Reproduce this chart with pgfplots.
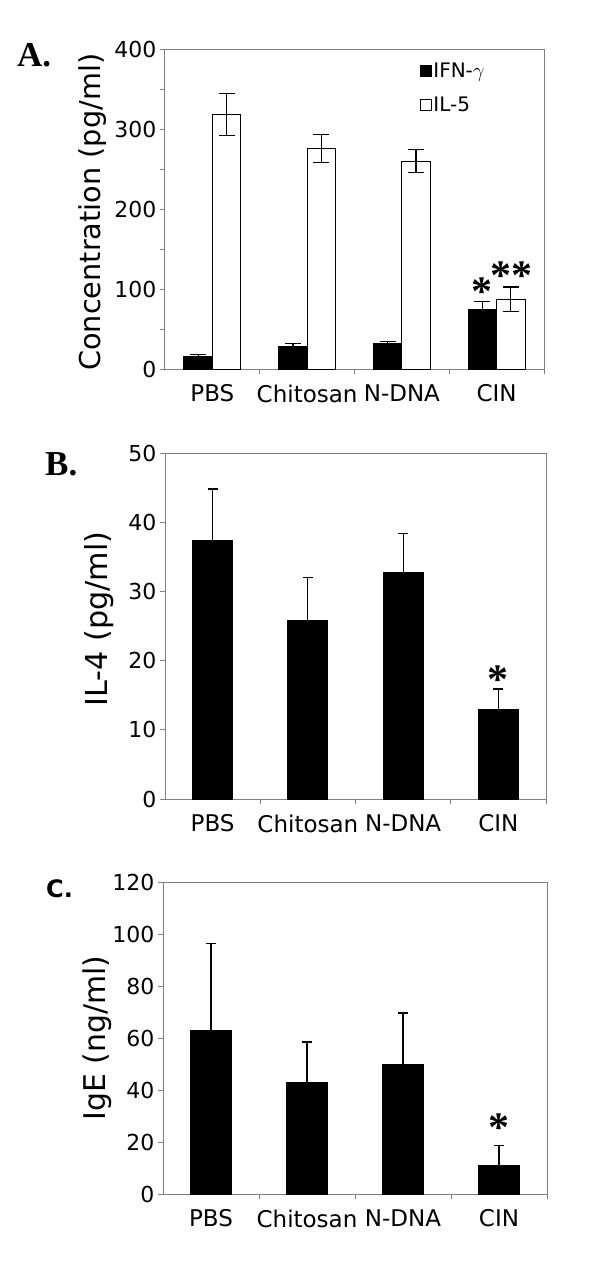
\documentclass[border=0pt]{standalone}
\usepackage{fontspec}
\setmainfont{DejaVu Sans}
\newfontfamily\serifbold{Liberation Serif}
\newfontfamily\sansfam{DejaVu Sans}
\usepackage{graphicx}
\usepackage{pgfplots}
\pgfplotsset{compat=1.18}

\newcommand{\ylab}[2]{\resizebox{#1}{!}{\fontsize{29}{34}\selectfont #2}}
\newcommand{\starfont}{\serifbold\bfseries\fontsize{42}{42}\selectfont}

\pgfplotsset{
  myaxis/.style={
    scale only axis,
    xmin=-0.5, xmax=3.5, ymin=0,
    xtick={0,1,2,3},
    xticklabels={PBS,Chitosan,N-DNA,CIN},
    minor xtick={0.5,1.5,2.5,3.5},
    tick pos=left, tick align=outside,
    major x tick style={draw=none},
    major tick length=5pt, minor tick length=5pt,
    tick style={draw=gray, line width=1pt},
    axis line style={draw=gray, line width=1pt},
    /pgf/number format/assume math mode=true,
    yticklabel style={font=\fontsize{22}{26}\selectfont},
    xticklabel style={font=\fontsize{23}{27}\selectfont, yshift=-7pt},
    ybar=0pt,
    every axis plot post/.append style={
      legend image code/.code={\draw[##1, line width=1pt] (0pt,-5.5pt) rectangle (11pt,5.5pt);}
    },
  },
  /pgfplots/error bars/myerr/.style={
    error bar style={black, line width=1.2pt},
    error mark options={rotate=90, black, line width=1.2pt, mark size=#1},
  },
}

\begin{document}
\begin{tikzpicture}
\path[use as bounding box] (0,0) rectangle (600pt,-1286pt);

% ---------- Panel A ----------
\begin{axis}[myaxis,
  at={(165pt,-369pt)}, anchor=south west,
  width=379pt, height=320pt,
  ymax=400, ytick={0,100,...,400}, minor ytick={50,150,250,350},
  bar width=0.3,
  ylabel={\ylab{317pt}{Concentration (pg/ml)}},
  ylabel style={at={(axis description cs:-0.19,0.49)}, anchor=center},
  legend style={at={(axis description cs:0.672,0.962)}, anchor=north west,
    draw=none, fill=none, inner sep=0pt, row sep=15pt,
    nodes={inner sep=1.5pt},
    font=\fontsize{20}{22}\selectfont},
  legend cell align=left,
]
\addplot[fill=black, draw=black, line width=1pt,
  error bars/.cd, y dir=both, y explicit, myerr=8pt]
  coordinates {(0,15.4) +- (0,2.6) (1,28) +- (0,4) (2,32) +- (0,2.5) (3,74) +- (0,10)};
\addplot[fill=white, draw=black, line width=1pt,
  error bars/.cd, y dir=both, y explicit, myerr=8pt]
  coordinates {(0,318) +- (0,26) (1,275.5) +- (0,17.5) (2,260) +- (0,14) (3,87) +- (0,15.5)};
\legend{IFN-$\gamma$, IL-5}
\node[font=\starfont] at (axis cs:2.85,97) {*};
\node[font=\starfont] at (axis cs:3.16,117) {**};
\end{axis}

% ---------- Panel B ----------
\begin{axis}[myaxis,
  at={(165pt,-799pt)}, anchor=south west,
  width=381pt, height=346pt,
  ymax=50, ytick={0,10,...,50},
  bar width=0.42,
  ylabel={\ylab{175pt}{IL-4 (pg/ml)}},
  ylabel style={at={(axis description cs:-0.173,0.52)}, anchor=center},
]
\addplot[fill=black, draw=black, line width=1pt,
  error bars/.cd, y dir=plus, y explicit, myerr=5pt]
  coordinates {(0,37.3) +- (0,7.5) (1,25.8) +- (0,6.2) (2,32.7) +- (0,5.7) (3,12.9) +- (0,3.0)};
\node[font=\starfont] at (axis cs:3,17.2) {*};
\end{axis}

% ---------- Panel C ----------
\begin{axis}[myaxis,
  at={(163pt,-1194pt)}, anchor=south west,
  width=384pt, height=312pt,
  ymax=120, ytick={0,20,...,120},
  bar width=0.42,
  ylabel={\ylab{165pt}{IgE (ng/ml)}},
  ylabel style={at={(axis description cs:-0.171,0.5)}, anchor=center},
]
\addplot[fill=black, draw=black, line width=1pt,
  error bars/.cd, y dir=plus, y explicit, myerr=5pt]
  coordinates {(0,62.8) +- (0,33.6) (1,43) +- (0,15.5) (2,49.9) +- (0,19.7) (3,10.9) +- (0,7.7)};
\node[font=\starfont] at (axis cs:3,25.5) {*};
\end{axis}

% panel letters
\node[anchor=base west, inner sep=0pt, font=\serifbold\bfseries\fontsize{35}{35}\selectfont] at (17pt,-66pt) {A.};
\node[anchor=base west, inner sep=0pt, font=\serifbold\bfseries\fontsize{35}{35}\selectfont] at (45pt,-475pt) {B.};
\node[anchor=base west, inner sep=0pt, font=\sansfam\bfseries\fontsize{24}{24}\selectfont] at (46pt,-897pt) {C.};
\end{tikzpicture}
\end{document}
